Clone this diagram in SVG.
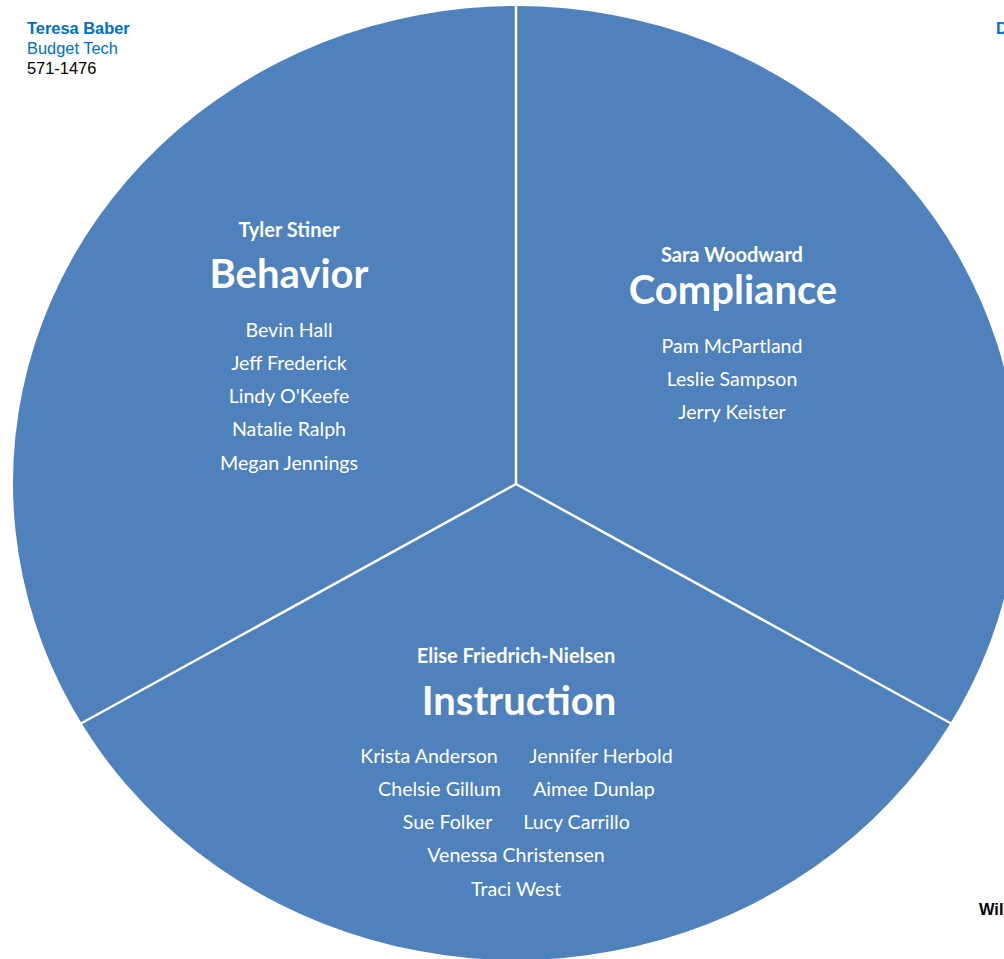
<svg xmlns="http://www.w3.org/2000/svg" width="1004" height="959" viewBox="0 0 1004 959">
<style>
.bg{fill:#ffffff}
.pie{fill:#4F81BD}
.sep{stroke:#ffffff;stroke-width:2.5;fill:none}
.t{font-family:Lato,"Open Sans","Liberation Sans",sans-serif;fill:#ffffff;text-anchor:middle}
.lead{font-size:20px;font-weight:bold}
.title{font-size:40px;font-weight:bold}
.nm{font-size:19.6px}
.side{font-family:"Liberation Sans",Arial,sans-serif;font-size:16.4px}
</style>
<rect class="bg" x="0" y="0" width="1004" height="959"/>
<g id="pie">
<ellipse class="pie" cx="516" cy="483" rx="503" ry="477"/>
</g>
<g id="connectors">
<line class="sep" x1="516" y1="484" x2="516" y2="4"/>
<line class="sep" x1="516" y1="484" x2="80" y2="724"/>
<line class="sep" x1="516" y1="484" x2="952" y2="724"/>
</g>
<g id="behavior">
<text class="t lead" x="289" y="237">Tyler Stiner</text>
<text class="t title" x="289" y="288">Behavior</text>
<text class="t nm" x="289" y="337">Bevin Hall</text>
<text class="t nm" x="289" y="370">Jeff Frederick</text>
<text class="t nm" x="289" y="403">Lindy O'Keefe</text>
<text class="t nm" x="289" y="436">Natalie Ralph</text>
<text class="t nm" x="289" y="470">Megan Jennings</text>
</g>
<g id="compliance">
<text class="t lead" x="732" y="262">Sara Woodward</text>
<text class="t title" x="733" y="304">Compliance</text>
<text class="t nm" x="732" y="353">Pam McPartland</text>
<text class="t nm" x="732" y="386">Leslie Sampson</text>
<text class="t nm" x="732" y="419">Jerry Keister</text>
</g>
<g id="instruction">
<text class="t lead" x="516" y="663">Elise Friedrich-Nielsen</text>
<text class="t title" x="519" y="715">Instruction</text>
<text class="t nm" x="429" y="763">Krista Anderson</text>
<text class="t nm" x="601" y="763">Jennifer Herbold</text>
<text class="t nm" x="439.5" y="796">Chelsie Gillum</text>
<text class="t nm" x="594" y="796">Aimee Dunlap</text>
<text class="t nm" x="447.5" y="829">Sue Folker</text>
<text class="t nm" x="576.5" y="829">Lucy Carrillo</text>
<text class="t nm" x="516" y="862">Venessa Christensen</text>
<text class="t nm" x="516" y="896">Traci West</text>
</g>
<g id="budget-tech">
<text class="side" x="27" y="34" font-weight="bold" fill="#0070C0">Teresa Baber</text>
<text class="side" x="27" y="54" fill="#0070C0">Budget Tech</text>
<text class="side" x="27" y="74" fill="#000000">571-1476</text>
</g>
<g id="top-right">
<text class="side" x="996" y="34" font-weight="bold" fill="#0070C0">D</text>
</g>
<g id="bottom-right">
<text class="side" x="979" y="915" font-weight="bold" fill="#000000">Wil</text>
</g>
</svg>
